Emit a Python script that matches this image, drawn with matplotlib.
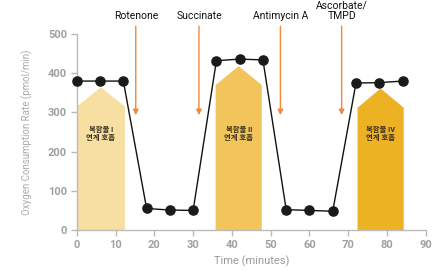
import matplotlib
matplotlib.use("Agg")
import matplotlib.pyplot as plt
from matplotlib.patches import Polygon

plt.rcParams['font.family'] = ['Roboto', 'Noto Sans CJK KR', 'DejaVu Sans']

time = [0, 6, 12, 18, 24, 30, 36, 42, 48, 54, 60, 66, 72, 78, 84]
ocr = [380, 380, 380, 55, 51, 50, 432, 436, 434, 52, 50, 48, 375, 376, 380]

# shaded regions: (x0, x1, shoulder, peak, color, label)
regions_x0 = [0, 35.8, 72.4]
regions_x1 = [12.4, 47.7, 84.3]
regions_shoulder = [315, 370, 312]
regions_peak = [364, 418, 361]
regions_colors = ['#F6DFA0', '#F2C55C', '#EDB124']
regions_labels = ['복합물 I\n연계 호흡', '복합물 II\n연계 호흡', '복합물 IV\n연계 호흡']

inj_x = [15.2, 31.5, 52.5, 68.3]
inj_labels = ['Rotenone', 'Succinate', 'Antimycin A', 'Ascorbate/\nTMPD']

fig = plt.figure(figsize=(4.44, 2.70), dpi=100)
ax = fig.add_axes([0.173, 0.148, 0.786, 0.726])

for x0, x1, sh, pk, c, lab in zip(regions_x0, regions_x1, regions_shoulder,
                                  regions_peak, regions_colors, regions_labels):
    xm = (x0 + x1) / 2
    poly = Polygon([(x0, 0), (x0, sh), (xm, pk), (x1, sh), (x1, 0)],
                   closed=True, facecolor=c, edgecolor='none', zorder=1)
    ax.add_patch(poly)
    ax.text(xm, 245, lab, ha='center', va='center', fontsize=5.3,
            fontweight='bold', color='#3a3020', linespacing=1.1, zorder=2)

ax.plot(time, ocr, color='#111111', lw=1.0, marker='o', markersize=6.6,
        markerfacecolor='#1a1a1a', markeredgecolor='#1a1a1a', zorder=3,
        clip_on=False)

for x, lab in zip(inj_x, inj_labels):
    ax.annotate('', xy=(x, 293), xytext=(x, 520),
                arrowprops=dict(arrowstyle='-|>', color='#F5873A', lw=1.0,
                                mutation_scale=8, shrinkA=0, shrinkB=0),
                annotation_clip=False, zorder=2)
    ax.text(x, 533, lab, ha='center', va='bottom', fontsize=7.5,
            color='#111111', linespacing=1.05, clip_on=False)

ax.set_xlim(0, 90)
ax.set_ylim(0, 500)
ax.set_xticks(range(0, 91, 10))
ax.set_yticks(range(0, 501, 100))
for s in ['top', 'right']:
    ax.spines[s].set_visible(False)
for s in ['left', 'bottom']:
    ax.spines[s].set_color('#bbbbbb')
    ax.spines[s].set_linewidth(1.0)
ax.tick_params(colors='#bbbbbb', length=4, width=1.0, labelsize=8, pad=3)
for lbl in ax.get_xticklabels() + ax.get_yticklabels():
    lbl.set_color('#a0a0a0')
    lbl.set_fontweight('bold')
ax.set_xlabel('Time (minutes)', fontsize=8, color='#999999', labelpad=4)
ax.set_ylabel('Oxygen Consumption Rate (pmol/min)', fontsize=7,
              color='#aaaaaa', labelpad=11)

fig.savefig('out.png', dpi=100)
